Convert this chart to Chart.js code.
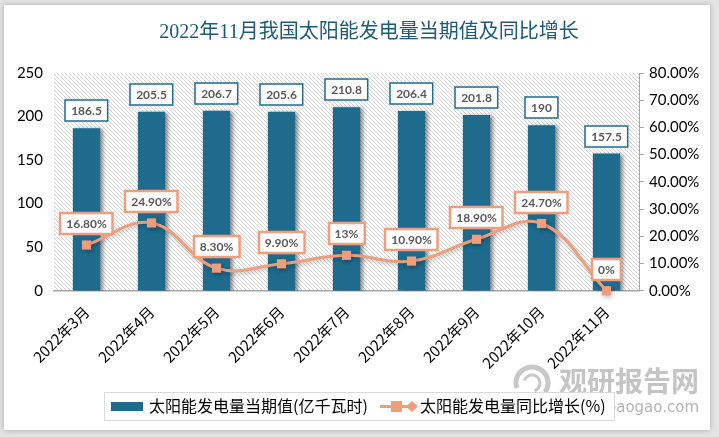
<!DOCTYPE html>
<html>
<head>
<meta charset="utf-8">
<script src="https://cdn.jsdelivr.net/npm/chart.js@4.4.0/dist/chart.umd.min.js"></script>
<style>
    html, body { margin: 0; padding: 0; background: #e4e4e4; }
    #wrap { width: 719px; height: 437px; }
</style>
</head>
<body>
<div id="wrap"><canvas id="grafico" width="719" height="437"></canvas></div>
<script>
// datos
const categorias = ['2022年3月', '2022年4月', '2022年5月', '2022年6月', '2022年7月', '2022年8月', '2022年9月', '2022年10月', '2022年11月'];
const generacion = [186.5, 205.5, 206.7, 205.6, 210.8, 206.4, 201.8, 190, 157.5];
const crecimiento = [16.8, 24.9, 8.3, 9.9, 13, 10.9, 18.9, 24.7, 0];
const etiquetasBarra = ['186.5', '205.5', '206.7', '205.6', '210.8', '206.4', '201.8', '190', '157.5'];
const etiquetasLinea = ['16.80%', '24.90%', '8.30%', '9.90%', '13%', '10.90%', '18.90%', '24.70%', '0%'];
const ticksIzq = [0, 50, 100, 150, 200, 250];
const ticksDer = [0, 10, 20, 30, 40, 50, 60, 70, 80];

const titulo = '2022年11月我国太阳能发电量当期值及同比增长';
const serieBarra = '太阳能发电量当期值(亿千瓦时)';
const serieLinea = '太阳能发电量同比增长(%)';

const AZUL = '#1e6b8e';
const SALMON = '#ee9e7c';
const CJK = '"Noto Sans CJK SC", "Noto Sans", sans-serif';

// patron rayado del fondo
function crearRayado() {
    const c = document.createElement('canvas');
    c.width = 4; c.height = 4;
    const g = c.getContext('2d');
    g.fillStyle = '#ffffff';
    g.fillRect(0, 0, 4, 4);
    g.strokeStyle = '#d4d4d4';
    g.lineWidth = 1;
    g.beginPath();
    g.moveTo(-1, -1); g.lineTo(5, 5);
    g.moveTo(3, -1); g.lineTo(5, 1);
    g.moveTo(-1, 3); g.lineTo(1, 5);
    g.stroke();
    return c;
}

const fondo = {
    id: 'fondo',
    beforeDraw(chart) {
        const ctx = chart.ctx;
        const a = chart.chartArea;
        ctx.save();
        ctx.fillStyle = '#e4e4e4';
        ctx.fillRect(0, 0, chart.width, chart.height);
        ctx.shadowColor = 'rgba(0,0,0,0.25)';
        ctx.shadowBlur = 6;
        ctx.fillStyle = '#ffffff';
        ctx.fillRect(4, 5, 706, 425);
        ctx.shadowColor = 'transparent';
        ctx.fillStyle = ctx.createPattern(crearRayado(), 'repeat');
        ctx.fillRect(a.left, a.top, a.right - a.left, a.bottom - a.top);
        ctx.restore();
    }
};

const sombras = {
    id: 'sombras',
    beforeDatasetDraw(chart, args) {
        const ctx = chart.ctx;
        ctx.save();
        if (args.meta.type === 'bar') {
            ctx.shadowColor = 'rgba(0,0,0,0.45)';
            ctx.shadowBlur = 4;
            ctx.shadowOffsetX = 3;
            ctx.shadowOffsetY = 1;
        } else {
            ctx.shadowColor = 'rgba(0,0,0,0.25)';
            ctx.shadowBlur = 4;
            ctx.shadowOffsetX = 1;
            ctx.shadowOffsetY = 2;
        }
    },
    afterDatasetDraw(chart) {
        chart.ctx.restore();
    }
};

function caja(ctx, texto, cx, abajo, borde, grosor) {
    ctx.font = 'bold 12px Lato, sans-serif';
    const w = ctx.measureText(texto).width + 12;
    const h = 21;
    const x = Math.round(cx - w / 2);
    const y = Math.round(abajo - h);
    ctx.fillStyle = '#ffffff';
    ctx.fillRect(x, y, w, h);
    ctx.strokeStyle = borde;
    ctx.lineWidth = grosor;
    ctx.strokeRect(x, y, w, h);
    ctx.fillStyle = '#595959';
    ctx.textAlign = 'center';
    ctx.textBaseline = 'middle';
    ctx.fillText(texto, cx, y + h / 2 + 1);
}

const etiquetas = {
    id: 'etiquetas',
    afterDatasetsDraw(chart) {
        const ctx = chart.ctx;
        ctx.save();
        const barras = chart.getDatasetMeta(1).data;
        barras.forEach((b, i) => caja(ctx, etiquetasBarra[i], b.x, b.y - 7, AZUL, 1.5));
        const puntos = chart.getDatasetMeta(0).data;
        puntos.forEach((p, i) => caja(ctx, etiquetasLinea[i], p.x, p.y - 11, SALMON, 2.5));
        ctx.restore();
    }
};

const extras = {
    id: 'extras',
    afterDraw(chart) {
        const ctx = chart.ctx;
        ctx.save();
        // titulo
        ctx.font = '20px "Liberation Serif", "Noto Sans CJK SC", serif';
        ctx.fillStyle = '#1d5a78';
        ctx.textAlign = 'center';
        ctx.textBaseline = 'middle';
        ctx.fillText(titulo, 369, 33);

        // marca de agua
        ctx.strokeStyle = '#c8c8c8';
        ctx.lineWidth = 5;
        ctx.beginPath();
        ctx.arc(532, 383, 16, Math.PI * 0.9, Math.PI * 2.2);
        ctx.stroke();
        ctx.lineWidth = 3;
        ctx.beginPath();
        ctx.arc(532, 383, 8, Math.PI * 1.1, Math.PI * 2.4);
        ctx.stroke();
        ctx.font = 'bold 28px ' + CJK;
        ctx.fillStyle = '#c4c4c4';
        ctx.textAlign = 'right';
        ctx.fillText('观研报告网', 699, 381);
        ctx.font = '15px "DejaVu Sans", sans-serif';
        ctx.fillStyle = '#b4b4b4';
        ctx.fillText('www.chinabaogao.com', 699, 408);

        // leyenda
        ctx.fillStyle = '#ffffff';
        ctx.fillRect(104, 392, 510, 28);
        ctx.strokeStyle = '#d9d9d9';
        ctx.lineWidth = 1;
        ctx.strokeRect(104.5, 392.5, 510, 28);
        ctx.fillStyle = AZUL;
        ctx.fillRect(111, 402, 32, 9);
        ctx.strokeStyle = SALMON;
        ctx.lineWidth = 3;
        ctx.beginPath();
        ctx.moveTo(380, 406.5); ctx.lineTo(414, 406.5);
        ctx.stroke();
        ctx.fillStyle = SALMON;
        ctx.fillRect(391, 401, 11, 11);
        ctx.beginPath();
        ctx.moveTo(412, 401); ctx.lineTo(418, 406.5); ctx.lineTo(412, 412); ctx.lineTo(406, 406.5);
        ctx.closePath();
        ctx.fill();
        ctx.font = '16px ' + CJK;
        ctx.fillStyle = '#000000';
        ctx.textAlign = 'left';
        ctx.textBaseline = 'middle';
        ctx.fillText(serieBarra, 149, 406);
        ctx.fillText(serieLinea, 420, 406);
        ctx.restore();
    }
};

Chart.defaults.font.family = 'Lato, sans-serif';

const ctx = document.getElementById('grafico').getContext('2d');
new Chart(ctx, {
    type: 'bar',
    data: {
        labels: categorias,
        datasets: [
            {
                type: 'line',
                label: serieLinea,
                data: crecimiento,
                yAxisID: 'y1',
                order: 0,
                borderColor: SALMON,
                borderWidth: 3,
                tension: 0.4,
                pointStyle: 'rect',
                pointRadius: 6.5,
                pointBackgroundColor: SALMON,
                pointBorderWidth: 0,
                clip: false
            },
            {
                type: 'bar',
                label: serieBarra,
                data: generacion,
                yAxisID: 'y',
                order: 1,
                backgroundColor: AZUL,
                barPercentage: 0.42,
                categoryPercentage: 1
            }
        ]
    },
    options: {
        responsive: false,
        animation: false,
        devicePixelRatio: 1,
        layout: { padding: { left: 18, right: 18, top: 73, bottom: 61 } },
        plugins: {
            legend: { display: false },
            title: { display: false },
            tooltip: { enabled: false }
        },
        scales: {
            x: {
                offset: true,
                grid: { display: false },
                border: { display: true, color: '#a6a6a6', width: 1.5 },
                afterFit: s => { s.paddingLeft = 0; s.paddingRight = 0; },
                ticks: {
                    autoSkip: false,
                    maxRotation: 45,
                    minRotation: 45,
                    padding: 4,
                    color: '#000',
                    font: { family: CJK, size: 15 }
                }
            },
            y: {
                position: 'left',
                min: 0,
                max: 250,
                afterBuildTicks: s => { s.ticks = ticksIzq.map(v => ({ value: v })); },
                afterFit: s => { s.width = 36; },
                grid: { display: false, drawTicks: false },
                border: { display: false },
                ticks: { padding: 11, color: '#000', font: { size: 15 } }
            },
            y1: {
                position: 'right',
                min: 0,
                max: 80,
                afterBuildTicks: s => { s.ticks = ticksDer.map(v => ({ value: v })); },
                afterFit: s => { s.width = 62; },
                grid: { drawOnChartArea: false, drawTicks: true, tickLength: 5, color: '#a6a6a6' },
                border: { display: true, color: '#a6a6a6' },
                ticks: {
                    padding: 5,
                    color: '#000',
                    font: { size: 15 },
                    callback: v => v.toFixed(2) + '%'
                }
            }
        }
    },
    plugins: [fondo, sombras, etiquetas, extras]
});
</script>
</body>
</html>
